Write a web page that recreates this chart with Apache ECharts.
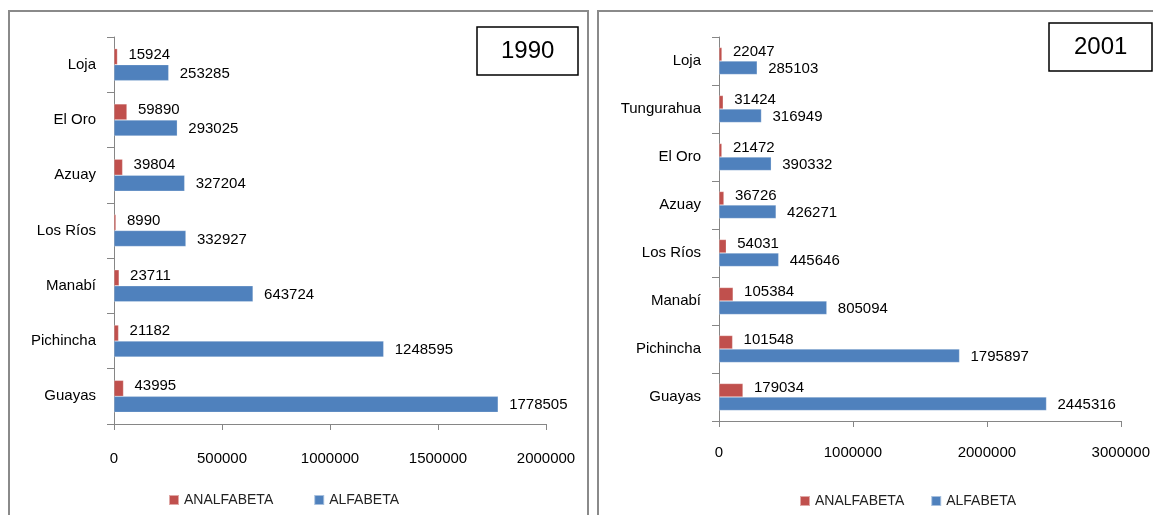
<!DOCTYPE html>
<html>
<head>
<meta charset="utf-8">
<script src="https://cdn.jsdelivr.net/npm/echarts@6/dist/echarts.min.js"></script>
<style>
  html, body { margin: 0; padding: 0; background: #fff; }
  #chart { width: 1153px; height: 515px; }
</style>
</head>
<body>
<div id="chart"></div>
<script>
  // datos 1990 (de abajo hacia arriba)
  var cats1990 = ['Guayas', 'Pichincha', 'Manabí', 'Los Ríos', 'Azuay', 'El Oro', 'Loja']
  var analf1990 = [43995, 21182, 23711, 8990, 39804, 59890, 15924]
  var alf1990 = [1778505, 1248595, 643724, 332927, 327204, 293025, 253285]

  // datos 2001
  var cats2001 = ['Guayas', 'Pichincha', 'Manabí', 'Los Ríos', 'Azuay', 'El Oro', 'Tungurahua', 'Loja']
  var analf2001 = [179034, 101548, 105384, 54031, 36726, 21472, 31424, 22047]
  var alf2001 = [2445316, 1795897, 805094, 445646, 426271, 390332, 316949, 285103]

  var font = '"Liberation Sans", Arial, sans-serif'
  var axisColor = '#868686'

  function xAxis(idx, max, interval, margin) {
    return {
      type: 'value',
      gridIndex: idx,
      min: 0,
      max: max,
      interval: interval,
      splitLine: { show: false },
      axisLine: { show: true, lineStyle: { color: axisColor, width: 1 } },
      axisTick: { show: true, length: 6, lineStyle: { color: axisColor } },
      axisLabel: {
        margin: margin, color: '#000', fontSize: 15, fontFamily: font,
        formatter: function (v) { return String(v) }
      }
    }
  }

  function yAxis(idx, cats) {
    return {
      type: 'category',
      gridIndex: idx,
      data: cats,
      axisLine: { show: true, lineStyle: { color: axisColor, width: 1 } },
      axisTick: { show: true, length: 7, lineStyle: { color: axisColor } },
      axisLabel: { margin: 18, color: '#000', fontSize: 15, fontFamily: font }
    }
  }

  function barSeries(name, data, idx, color, width, dy) {
    return {
      name: name,
      type: 'bar',
      xAxisIndex: idx,
      yAxisIndex: idx,
      data: data,
      barWidth: width,
      barGap: '0%',
      itemStyle: { color: color, borderColor: 'rgba(255,255,255,0.5)', borderWidth: 0.5 },
      label: {
        show: true,
        position: 'right',
        distance: 11,
        offset: [0, dy],
        color: '#000',
        fontSize: 15,
        fontFamily: font,
        formatter: function (p) { return String(p.value) }
      }
    }
  }

  var chart = echarts.init(document.getElementById('chart'))
  chart.setOption({
    animation: false,
    backgroundColor: '#fff',
    graphic: [
      { type: 'rect', shape: { x: 9, y: 11, width: 579, height: 530 },
        style: { fill: 'none', stroke: '#8a8a8a', lineWidth: 2 } },
      { type: 'rect', shape: { x: 598, y: 11, width: 600, height: 530 },
        style: { fill: 'none', stroke: '#8a8a8a', lineWidth: 2 } }
    ],
    title: [
      {
        text: '1990', left: 477, top: 27,
        padding: [12, 24],
        borderColor: '#000', borderWidth: 1.5,
        textStyle: { fontSize: 24, fontWeight: 'normal', color: '#000', fontFamily: font }
      },
      {
        text: '2001', left: 1049, top: 23,
        padding: [12, 25],
        borderColor: '#000', borderWidth: 1.5,
        textStyle: { fontSize: 24, fontWeight: 'normal', color: '#000', fontFamily: font }
      }
    ],
    legend: [
      {
        data: ['ANALFABETA', 'ALFABETA'],
        left: 163, top: 488,
        icon: 'rect', itemWidth: 10, itemHeight: 10, itemGap: 40,
        textStyle: { fontSize: 14, color: '#222', fontFamily: font }
      },
      {
        data: ['ANALFABETA', 'ALFABETA'],
        left: 794, top: 489,
        icon: 'rect', itemWidth: 10, itemHeight: 10, itemGap: 26,
        textStyle: { fontSize: 14, color: '#222', fontFamily: font }
      }
    ],
    grid: [
      { left: 114, top: 37, width: 432, height: 387 },
      { left: 719, top: 37, width: 402, height: 384 }
    ],
    xAxis: [
      xAxis(0, 2000000, 500000, 27),
      xAxis(1, 3000000, 1000000, 24)
    ],
    yAxis: [
      yAxis(0, cats1990),
      yAxis(1, cats2001)
    ],
    series: [
      barSeries('ANALFABETA', analf1990, 0, '#C0504D', 16, -2),
      barSeries('ALFABETA', alf1990, 0, '#4F81BD', 16, 1),
      barSeries('ANALFABETA', analf2001, 1, '#C0504D', 13.5, -2),
      barSeries('ALFABETA', alf2001, 1, '#4F81BD', 13.5, 1)
    ]
  })
</script>
</body>
</html>
